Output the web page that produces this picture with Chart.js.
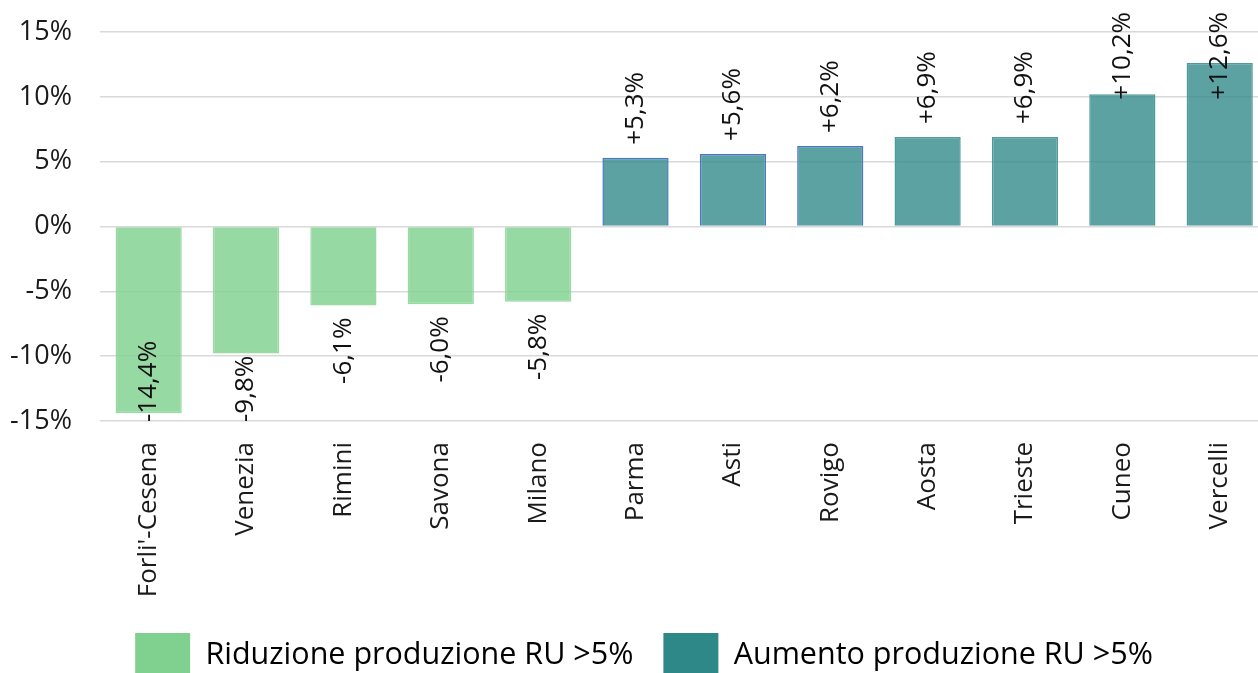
<!DOCTYPE html>
<html>
<head>
<meta charset="utf-8">
<script src="https://cdn.jsdelivr.net/npm/chart.js@4/dist/chart.umd.min.js"></script>
<style>
  html, body { margin: 0; padding: 0; background: #fff; overflow: hidden; }
  #wrap { width: 1258px; height: 673px; overflow: hidden; position: relative; }
  #wrap canvas { position: absolute; left: 0; top: 0; }
</style>
</head>
<body>
<div id="wrap"><canvas id="chartRU" width="1272" height="700"></canvas></div>
<script>
// ── variazione produzione RU per provincia ─────────────────────────────────

const CATEGORIE = ["Forli'-Cesena", 'Venezia', 'Rimini', 'Savona', 'Milano',
                   'Parma', 'Asti', 'Rovigo', 'Aosta', 'Trieste', 'Cuneo', 'Vercelli'];

const RIDUZIONE = [-14.4, -9.8, -6.1, -6.0, -5.8, null, null, null, null, null, null, null];
const AUMENTO   = [null, null, null, null, null, 5.3, 5.6, 6.2, 6.9, 6.9, 10.2, 12.6];

const Y_TICKS = [-15, -10, -5, 0, 5, 10, 15];

const LEGENDA = ['Riduzione produzione RU >5%', 'Aumento produzione RU >5%'];

const FONT       = 'Open Sans';
const TXT_COLOR  = '#1a1a1a';
const GRID_COLOR = '#d9d9d9';

// bordo blu su Parma, Asti e Rovigo come nell'originale
const bordiAumento = CATEGORIE.map((c, i) => (i >= 5 && i <= 7) ? '#4a78c8' : '#4f9a9a');

const fmtPct = v => (v > 0 ? '+' : '') + v.toFixed(1).replace('.', ',') + '%';

// etichette ruotate sopra/sotto le barre
const etichette = {
  id: 'etichette',
  afterLayout(chart) {
    // legenda un po' spostata a destra come nell'originale
    if (chart.legend) chart.legend.left += 18;
  },
  afterDatasetsDraw(chart) {
    const { ctx, chartArea } = chart;
    ctx.save();
    ctx.font = `26px "${FONT}"`;
    ctx.fillStyle = '#111';
    ctx.textBaseline = 'middle';
    chart.data.datasets.forEach((ds, di) => {
      const meta = chart.getDatasetMeta(di);
      meta.data.forEach((bar, i) => {
        const v = ds.data[i];
        if (v == null) return;
        const txt = fmtPct(v);
        const w = ctx.measureText(txt).width;
        ctx.save();
        ctx.translate(bar.x, 0);
        ctx.rotate(-Math.PI / 2);
        if (v > 0) {
          let base = bar.y - 13;
          if (base - w < 12) base = 12 + w;
          ctx.textAlign = 'left';
          ctx.fillText(txt, -base, 0);
        } else {
          let top = bar.y + 12;
          if (top + w > chartArea.bottom + 1) top = chartArea.bottom + 1 - w;
          ctx.textAlign = 'right';
          ctx.fillText(txt, -top, 0);
        }
        ctx.restore();
      });
    });
    ctx.restore();
  }
};

new Chart(document.getElementById('chartRU'), {
  type: 'bar',
  data: {
    labels: CATEGORIE,
    datasets: [
      {
        label: LEGENDA[0],
        data: RIDUZIONE,
        backgroundColor: 'rgba(127,209,143,0.82)',
        borderColor: 'rgba(140,214,155,0.9)',
        borderWidth: 1.5
      },
      {
        label: LEGENDA[1],
        data: AUMENTO,
        backgroundColor: 'rgba(46,136,137,0.78)',
        borderColor: bordiAumento,
        borderWidth: 1.5
      }
    ]
  },
  options: {
    responsive: false,
    animation: false,
    layout: { padding: { top: 32, right: 2, bottom: 13, left: 0 } },
    datasets: { bar: { barPercentage: 0.68, categoryPercentage: 1 } },
    plugins: {
      tooltip: { enabled: false },
      legend: {
        position: 'bottom',
        labels: {
          color: TXT_COLOR,
          font: { family: FONT, size: 30.5 },
          boxWidth: 55, boxHeight: 44, padding: 30,
          generateLabels: () => [
            { text: LEGENDA[0], fillStyle: '#80d18f', strokeStyle: '#80d18f', lineWidth: 0, datasetIndex: 0 },
            { text: LEGENDA[1], fillStyle: '#2e8888', strokeStyle: '#2e8888', lineWidth: 0, datasetIndex: 1 }
          ]
        }
      }
    },
    scales: {
      x: {
        stacked: true,
        grid: { display: false, drawTicks: false },
        border: { display: false },
        ticks: {
          color: TXT_COLOR, font: { family: FONT, size: 26 },
          minRotation: 90, maxRotation: 90, autoSkip: false, padding: 21
        },
        afterFit: s => { s.height = 182; }
      },
      y: {
        stacked: true,
        min: -15, max: 15,
        afterBuildTicks: s => { s.ticks = Y_TICKS.map(v => ({ value: v })); },
        grid: { color: GRID_COLOR, lineWidth: 1.5, drawTicks: false },
        border: { display: false },
        ticks: {
          color: TXT_COLOR, font: { family: FONT, size: 27 }, padding: 28,
          callback: v => v + '%'
        },
        afterFit: s => { s.width = 100; s.paddingTop = 16; s.paddingBottom = 16; }
      }
    }
  },
  plugins: [etichette]
});
</script>
</body>
</html>
